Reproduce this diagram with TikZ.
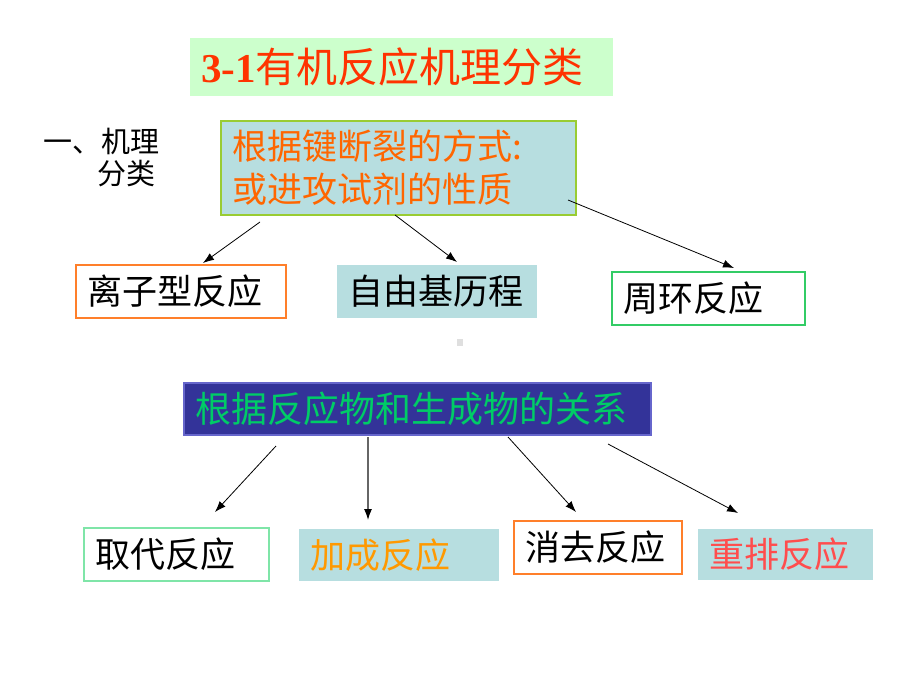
\documentclass[tikz,border=0pt]{standalone}
\usepackage{fontspec}
\setmainfont{Liberation Serif}
\newfontfamily\cjk{Noto Sans CJK SC}
\usetikzlibrary{arrows.meta}

\definecolor{titlefill}{HTML}{CCFFCC}
\definecolor{titletext}{HTML}{FF3300}
\definecolor{paleblue}{HTML}{B7DEE0}
\definecolor{limeedge}{HTML}{99CC33}
\definecolor{orangetext}{HTML}{FF6600}
\definecolor{orangeedge}{HTML}{FF7F2A}
\definecolor{greenedge}{HTML}{33CC66}
\definecolor{mintedge}{HTML}{7FE5A8}
\definecolor{navyfill}{HTML}{333399}
\definecolor{navyedge}{HTML}{6666CC}
\definecolor{greentext}{HTML}{00CC66}
\definecolor{ambertext}{HTML}{FF9900}
\definecolor{redtext}{HTML}{FF4D4D}

\begin{document}
\begin{tikzpicture}[x=1pt,y=-1pt,
    box/.style={rectangle, inner xsep=11pt, inner ysep=0pt, align=left,
      line width=1.5pt, font=\cjk\fontsize{35}{43}\selectfont},
    link/.style={-{Latex[length=11pt,width=8pt,black]}, line width=0.8pt}]

  \useasboundingbox[fill=white] (0,0) rectangle (920,690);

  % title and left heading
  \node[box, fill=titlefill, text=titletext, text width=401pt, minimum height=58pt,
    font=\cjk\fontsize{41}{48}\selectfont] (title) at (401.5,67)
    {{\rmfamily\bfseries 3-1}有机反应机理分类};
  \node[align=left, inner sep=0pt, font=\cjk\fontsize{29}{32}\selectfont] (heading) at (101.5,158)
    {一、机理\\\hspace*{54pt}分类};

  % first classification
  \begin{scope}[every node/.style={box}]
    \node[fill=paleblue, draw=limeedge, text=orangetext, text width=333pt, minimum height=94pt]
      (bond) at (398.5,168) {根据键断裂的方式:\\或进攻试剂的性质};
    \node[fill=white, draw=orangeedge, text width=188pt, minimum height=53pt]
      (ionic) at (181,291.5) {离子型反应};
    \node[fill=paleblue, text width=178pt, minimum height=53pt]
      (radical) at (437,291.5) {自由基历程};
    \node[fill=white, draw=greenedge, text width=171pt, minimum height=53pt]
      (pericyclic) at (708.5,298.5) {周环反应};
  \end{scope}

  \fill[gray!25] (457,339) rectangle (463,346);

  % second classification
  \begin{scope}[every node/.style={box}]
    \node[fill=navyfill, draw=navyedge, text=greentext, text width=445pt, minimum height=52pt,
      font=\cjk\fontsize{36}{43}\selectfont] (relation) at (417.5,409) {根据反应物和生成物的关系};
    \node[fill=white, draw=mintedge, text width=163pt, minimum height=53pt]
      (subst) at (176.5,554.5) {取代反应};
    \node[fill=paleblue, text=ambertext, text width=178pt, minimum height=52pt]
      (addn) at (399,555) {加成反应};
    \node[fill=white, draw=orangeedge, text width=146pt, minimum height=53pt]
      (elim) at (598,547.5) {消去反应};
    \node[fill=paleblue, text=redtext, text width=153pt, minimum height=51pt]
      (rearr) at (785.5,554.5) {重排反应};
  \end{scope}

  % arrow ends
  \coordinate (bond1) at (260,222);
  \coordinate (bond2) at (395,215);
  \coordinate (bond3) at (568,200);
  \coordinate (ionicin) at (203,263);
  \coordinate (radicalin) at (457,262);
  \coordinate (pericyclicin) at (734,268);
  \coordinate (rel1) at (276,446);
  \coordinate (rel2) at (368,437);
  \coordinate (rel3) at (508,437);
  \coordinate (rel4) at (608,444);
  \coordinate (substin) at (215,512);
  \coordinate (addnin) at (368,520);
  \coordinate (elimin) at (576,512);
  \coordinate (rearrin) at (738,513);

  \begin{scope}[every path/.style={link}]
    \path (bond1) edge (ionicin);
    \path (bond2) edge (radicalin);
    \path (bond3) edge (pericyclicin);
    \path (rel1) edge (substin);
    \path (rel2) edge[draw=black!60, line width=1.2pt] (addnin);
    \path (rel3) edge (elimin);
    \path (rel4) edge (rearrin);
  \end{scope}

\end{tikzpicture}
\end{document}
